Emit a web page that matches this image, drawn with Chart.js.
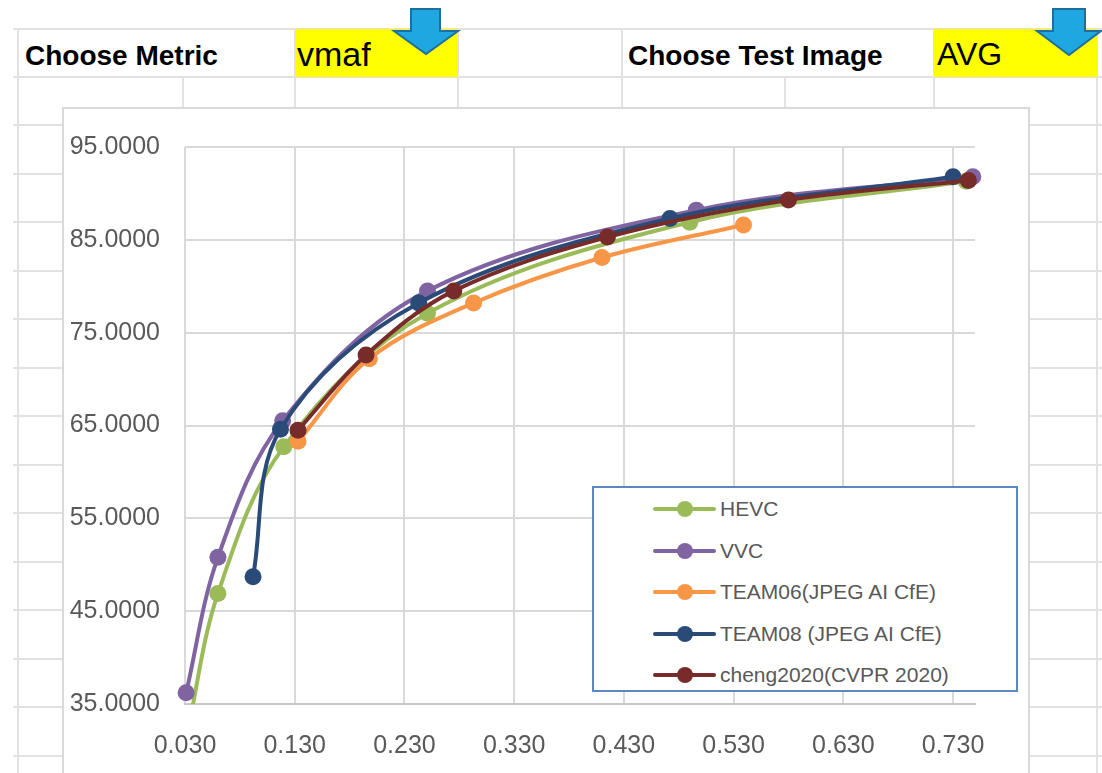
<!DOCTYPE html>
<html>
<head>
<meta charset="utf-8">
<script src="https://cdn.jsdelivr.net/npm/chart.js@4/dist/chart.umd.min.js"></script>
<style>
  body { margin: 0; width: 1102px; height: 773px; overflow: hidden; background: #fff; font-family: "Liberation Sans", Arial, sans-serif; position: relative; }
  .hl, .vl { position: absolute; background: #e2e2e2; }
  .hl { height: 2px; }
  .vl { width: 2px; }
  .cell { position: absolute; height: 48px; line-height: 54px; color: #000; white-space: nowrap; }
  .yellow { background: #ffff00; }
  #chartbox { position: absolute; left: 62px; top: 107px; width: 964px; height: 700px; border: 2px solid #d9d9d9; background: #fff; }
  #wrap { position: absolute; left: 62px; top: 107px; width: 966px; height: 666px; }
  #legend { position: absolute; left: 592px; top: 486px; width: 422px; height: 202px; border: 2px solid #5b87c5; background: #fff; }
  .item { position: absolute; left: 59px; height: 30px; font-size: 21px; color: #595959; line-height: 30px; white-space: nowrap; }
  .sample { position: absolute; left: 0; top: 13px; width: 63px; height: 4px; border-radius: 2px; }
  .dot { position: absolute; left: 24px; top: -6px; width: 16px; height: 16px; border-radius: 50%; }
  .item span { position: absolute; left: 67px; top: 0; }
</style>
</head>
<body>
<div id="sheet"></div>
<div class="cell yellow" style="left:295px; top:29px; width:163px;"></div>
<div class="cell yellow" style="left:934px; top:29px; width:163px;"></div>
<div class="cell" style="left:25px; top:29px; font-weight:bold; font-size:28px;">Choose Metric</div>
<div class="cell" style="left:297px; top:27px; font-size:34px;">vmaf</div>
<div class="cell" style="left:628px; top:29px; font-weight:bold; font-size:28px;">Choose Test Image</div>
<div class="cell" style="left:937px; top:27px; font-size:32px;">AVG</div>
<svg width="1102" height="80" style="position:absolute; left:0; top:0;">
  <polygon points="411,9 440,9 440,31 458,31 426,54 394,31 411,31" fill="#1ea7e1" stroke="#1f6f9c" stroke-width="2"/>
  <polygon points="1053,9 1085,9 1085,31 1101,31 1069,55 1037,31 1053,31" fill="#1ea7e1" stroke="#1f6f9c" stroke-width="2"/>
</svg>
<div id="chartbox"></div>
<div id="wrap"><canvas id="rd-chart"></canvas></div>
<div id="legend"></div>
<script>
// bpp on x, vmaf score on y
const hevcX = [0.033, 0.060, 0.120, 0.251, 0.490, 0.742]
const hevcY = [32.5, 46.9, 62.7, 77.1, 86.9, 91.3]
const vvcX = [0.031, 0.060, 0.119, 0.251, 0.496, 0.748]
const vvcY = [36.2, 50.8, 65.5, 79.5, 88.2, 91.8]
const team06X = [0.133, 0.198, 0.293, 0.410, 0.539]
const team06Y = [63.3, 72.2, 78.2, 83.1, 86.6]
const team08X = [0.092, 0.117, 0.243, 0.472, 0.730]
const team08Y = [48.7, 64.6, 78.2, 87.3, 91.8]
const chengX = [0.133, 0.195, 0.275, 0.415, 0.580, 0.744]
const chengY = [64.5, 72.6, 79.5, 85.3, 89.3, 91.4]
const seriesNames = ["HEVC", "VVC", "TEAM06(JPEG AI CfE)", "TEAM08 (JPEG AI CfE)", "cheng2020(CVPR 2020)"]
const seriesColors = ["#9bbb59", "#8064a2", "#f79646", "#2a4a78", "#772c2a"]
const xTicks = [0.03, 0.13, 0.23, 0.33, 0.43, 0.53, 0.63, 0.73]

// spreadsheet grid behind the chart
const sheetRows = [29, 77, 125, 174, 222, 271, 319, 368, 416, 465, 513, 562, 610, 659, 707, 756]
const sheetCols = [[18, 29, 773], [183, 77, 107], [295, 29, 107], [458, 29, 107], [622, 29, 107], [785, 77, 107], [934, 29, 107], [1097, 29, 773]]
let sheet = ""
sheetRows.forEach(y => { sheet += `<div class="hl" style="left:13px; top:${y - 1}px; width:1089px"></div>` })
sheetCols.forEach(c => { sheet += `<div class="vl" style="left:${c[0] - 1}px; top:${c[1]}px; height:${c[2] - c[1]}px"></div>` })
document.querySelector("#sheet").innerHTML = sheet

function zip(xs, ys) {
    return xs.map((x, i) => ({ x: x, y: ys[i] }))
}

const seriesData = [zip(hevcX, hevcY), zip(vvcX, vvcY), zip(team06X, team06Y), zip(team08X, team08Y), zip(chengX, chengY)]

const tickFont = { family: "Liberation Sans", size: 25 }

const chart = new Chart(document.getElementById("rd-chart"), {
    type: 'line',
    data: {
        datasets: seriesNames.map((name, i) => ({
            label: name,
            data: seriesData[i],
            borderColor: seriesColors[i],
            backgroundColor: seriesColors[i],
            pointBackgroundColor: seriesColors[i],
            pointBorderColor: seriesColors[i],
            pointBorderWidth: 0,
            pointRadius: 8.5,
            borderWidth: 4,
            tension: 0.35,
            order: seriesNames.length - i,
            clip: { left: 12, top: 12, right: 12, bottom: 0 },
        })),
    },
    options: {
        animation: false,
        responsive: true,
        maintainAspectRatio: false,
        layout: { padding: { top: 40, right: 53, left: 0, bottom: 0 } },
        plugins: {
            legend: { display: false },
            tooltip: { enabled: false },
        },
        scales: {
            x: {
                type: 'linear',
                min: 0.03,
                max: 0.75,
                afterBuildTicks: (scale) => { scale.ticks = xTicks.map(v => ({ value: v })) },
                afterFit: (scale) => { scale.height = 69 },
                grid: { color: "#d9d9d9", lineWidth: 2, drawTicks: false },
                border: { color: "#c8c8c8", width: 2 },
                ticks: { color: "#595959", font: tickFont, padding: 27, maxRotation: 0, autoSkip: false, callback: (v) => v.toFixed(3) },
            },
            y: {
                min: 35,
                max: 95,
                afterFit: (scale) => { scale.width = 123 },
                grid: { color: "#d9d9d9", lineWidth: 2, drawTicks: false },
                border: { display: false },
                ticks: { color: "#595959", font: tickFont, padding: 25, stepSize: 10, callback: (v) => v.toFixed(4) },
            },
        },
    },
});

// legend box drawn inside the plot, the way the sheet had it
document.querySelector("#legend").innerHTML = chart.data.datasets.map((d, i) => `
    <div class="item" style="top:${6 + i * 41.5}px">
      <div class="sample" style="background:${d.borderColor}"><div class="dot" style="background:${d.borderColor}"></div></div>
      <span>${d.label}</span>
    </div>`).join("")
</script>
</body>
</html>
